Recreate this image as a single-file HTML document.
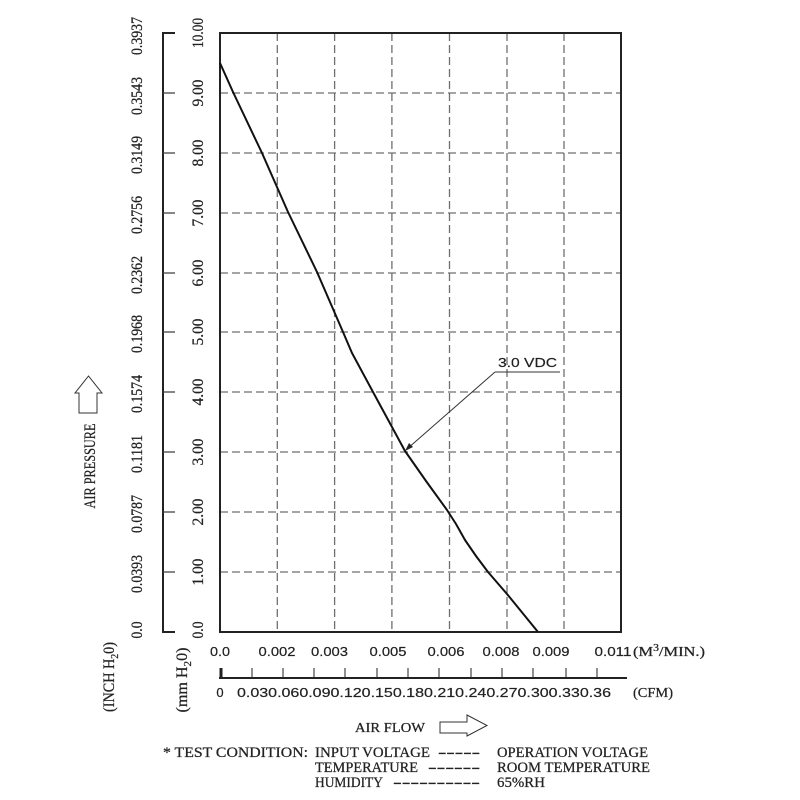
<!DOCTYPE html>
<html>
<head>
<meta charset="utf-8">
<style>
html,body{margin:0;padding:0;background:#fff;}
svg{display:block;}
.s{font-family:"Liberation Serif",serif;fill:#222;stroke:#222;stroke-width:0.25;}
.a{font-family:"Liberation Sans",sans-serif;fill:#222;stroke:#222;stroke-width:0.2;}
</style>
</head>
<body>
<svg width="800" height="800" viewBox="0 0 800 800" xmlns="http://www.w3.org/2000/svg">
<rect width="800" height="800" fill="#fff"/>

<!-- grid -->
<g stroke="#6f6f6f" stroke-width="1.3" stroke-dasharray="8,4" fill="none">
  <line x1="220" y1="93" x2="621" y2="93"/>
  <line x1="220" y1="153" x2="621" y2="153"/>
  <line x1="220" y1="213" x2="621" y2="213"/>
  <line x1="220" y1="273" x2="621" y2="273"/>
  <line x1="220" y1="332" x2="621" y2="332"/>
  <line x1="220" y1="392" x2="621" y2="392"/>
  <line x1="220" y1="452" x2="621" y2="452"/>
  <line x1="220" y1="512" x2="621" y2="512"/>
  <line x1="220" y1="572" x2="621" y2="572"/>
  <line x1="277.3" y1="33" x2="277.3" y2="632"/>
  <line x1="334.6" y1="33" x2="334.6" y2="632"/>
  <line x1="391.9" y1="33" x2="391.9" y2="632"/>
  <line x1="449.5" y1="33" x2="449.5" y2="632"/>
  <line x1="507" y1="33" x2="507" y2="632"/>
  <line x1="564" y1="33" x2="564" y2="632"/>
</g>

<!-- plot box -->
<rect x="220" y="33" width="401" height="599" fill="none" stroke="#222" stroke-width="2"/>

<!-- left mm axis -->
<g stroke="#222" stroke-width="2">
  <line x1="163" y1="32" x2="163" y2="633"/>
  <line x1="163" y1="33" x2="175" y2="33"/>
  <line x1="163" y1="632" x2="175" y2="632"/>
</g>
<g stroke="#444" stroke-width="1.3">
  <line x1="163" y1="93" x2="175" y2="93"/>
  <line x1="163" y1="153" x2="175" y2="153"/>
  <line x1="163" y1="213" x2="175" y2="213"/>
  <line x1="163" y1="273" x2="175" y2="273"/>
  <line x1="163" y1="332" x2="175" y2="332"/>
  <line x1="163" y1="392" x2="175" y2="392"/>
  <line x1="163" y1="452" x2="175" y2="452"/>
  <line x1="163" y1="512" x2="175" y2="512"/>
  <line x1="163" y1="572" x2="175" y2="572"/>
</g>

<!-- mm labels -->
<g class="s" font-size="16" text-anchor="middle">
  <text transform="translate(203,33) rotate(-90)" textLength="30" lengthAdjust="spacingAndGlyphs">10.00</text>
  <text transform="translate(203,93) rotate(-90)" textLength="27" lengthAdjust="spacingAndGlyphs">9.00</text>
  <text transform="translate(203,153) rotate(-90)" textLength="27" lengthAdjust="spacingAndGlyphs">8.00</text>
  <text transform="translate(203,213) rotate(-90)" textLength="27" lengthAdjust="spacingAndGlyphs">7.00</text>
  <text transform="translate(203,273) rotate(-90)" textLength="27" lengthAdjust="spacingAndGlyphs">6.00</text>
  <text transform="translate(203,332) rotate(-90)" textLength="27" lengthAdjust="spacingAndGlyphs">5.00</text>
  <text transform="translate(203,392) rotate(-90)" textLength="27" lengthAdjust="spacingAndGlyphs">4.00</text>
  <text transform="translate(203,452) rotate(-90)" textLength="27" lengthAdjust="spacingAndGlyphs">3.00</text>
  <text transform="translate(203,512) rotate(-90)" textLength="27" lengthAdjust="spacingAndGlyphs">2.00</text>
  <text transform="translate(203,572) rotate(-90)" textLength="27" lengthAdjust="spacingAndGlyphs">1.00</text>
  <text transform="translate(203,630) rotate(-90)" textLength="17" lengthAdjust="spacingAndGlyphs">0.0</text>
</g>

<!-- inch labels -->
<g class="s" font-size="16" text-anchor="middle">
  <text transform="translate(142,36) rotate(-90)" textLength="38" lengthAdjust="spacingAndGlyphs">0.3937</text>
  <text transform="translate(142,96) rotate(-90)" textLength="38" lengthAdjust="spacingAndGlyphs">0.3543</text>
  <text transform="translate(142,155) rotate(-90)" textLength="38" lengthAdjust="spacingAndGlyphs">0.3149</text>
  <text transform="translate(142,215) rotate(-90)" textLength="38" lengthAdjust="spacingAndGlyphs">0.2756</text>
  <text transform="translate(142,275) rotate(-90)" textLength="38" lengthAdjust="spacingAndGlyphs">0.2362</text>
  <text transform="translate(142,334) rotate(-90)" textLength="38" lengthAdjust="spacingAndGlyphs">0.1968</text>
  <text transform="translate(142,394) rotate(-90)" textLength="38" lengthAdjust="spacingAndGlyphs">0.1574</text>
  <text transform="translate(142,454) rotate(-90)" textLength="38" lengthAdjust="spacingAndGlyphs">0.1181</text>
  <text transform="translate(142,514) rotate(-90)" textLength="38" lengthAdjust="spacingAndGlyphs">0.0787</text>
  <text transform="translate(142,574) rotate(-90)" textLength="38" lengthAdjust="spacingAndGlyphs">0.0393</text>
  <text transform="translate(142,630) rotate(-90)" textLength="17" lengthAdjust="spacingAndGlyphs">0.0</text>
</g>

<!-- unit labels rotated -->
<g class="s" font-size="16" text-anchor="middle">
  <text transform="translate(114,677) rotate(-90)" textLength="70" lengthAdjust="spacingAndGlyphs">(INCH H<tspan font-size="11" dy="4">2</tspan><tspan dy="-4">0)</tspan></text>
  <text transform="translate(187,680) rotate(-90)" textLength="65" lengthAdjust="spacingAndGlyphs">(mm H<tspan font-size="11" dy="4">2</tspan><tspan dy="-4">0)</tspan></text>
  <text transform="translate(95,466) rotate(-90)" textLength="85" lengthAdjust="spacingAndGlyphs">AIR PRESSURE</text>
</g>

<!-- up arrow -->
<polygon points="88.5,376 102,393 97,393 97,413 79,413 79,393 75,393" fill="#fff" stroke="#333" stroke-width="1"/>

<!-- x labels (M3/MIN) -->
<g class="a" font-size="13" text-anchor="middle">
  <text x="220" y="656" textLength="20" lengthAdjust="spacingAndGlyphs">0.0</text>
  <text x="277" y="656" textLength="37" lengthAdjust="spacingAndGlyphs">0.002</text>
  <text x="329.5" y="656" textLength="37" lengthAdjust="spacingAndGlyphs">0.003</text>
  <text x="388" y="656" textLength="37" lengthAdjust="spacingAndGlyphs">0.005</text>
  <text x="446" y="656" textLength="37" lengthAdjust="spacingAndGlyphs">0.006</text>
  <text x="501" y="656" textLength="37" lengthAdjust="spacingAndGlyphs">0.008</text>
  <text x="551" y="656" textLength="37" lengthAdjust="spacingAndGlyphs">0.009</text>
  <text x="613" y="656" textLength="37" lengthAdjust="spacingAndGlyphs">0.011</text>
</g>
<text class="s" x="633" y="656" font-size="14" textLength="72" lengthAdjust="spacingAndGlyphs">(M<tspan font-size="10" dy="-5">3</tspan><tspan dy="5">/MIN.)</tspan></text>

<!-- CFM axis -->
<g stroke="#222">
  <line x1="219" y1="678" x2="627" y2="678" stroke-width="2"/>
  <line x1="221" y1="668" x2="221" y2="679" stroke-width="3"/>
  <g stroke-width="1">
    <line x1="252" y1="668" x2="252" y2="678"/>
    <line x1="283" y1="668" x2="283" y2="678"/>
    <line x1="314" y1="668" x2="314" y2="678"/>
    <line x1="345" y1="668" x2="345" y2="678"/>
    <line x1="377" y1="668" x2="377" y2="678"/>
    <line x1="408" y1="668" x2="408" y2="678"/>
    <line x1="439" y1="668" x2="439" y2="678"/>
    <line x1="471" y1="668" x2="471" y2="678"/>
    <line x1="502" y1="668" x2="502" y2="678"/>
    <line x1="533" y1="668" x2="533" y2="678"/>
    <line x1="566" y1="668" x2="566" y2="678"/>
    <line x1="597" y1="668" x2="597" y2="678"/>
  </g>
</g>
<text class="a" x="220" y="697" font-size="13" text-anchor="middle">0</text>
<text class="a" x="237" y="697" font-size="13" textLength="374" lengthAdjust="spacingAndGlyphs">0.030.060.090.120.150.180.210.240.270.300.330.36</text>
<text class="s" x="633" y="697" font-size="14" textLength="40" lengthAdjust="spacingAndGlyphs">(CFM)</text>

<!-- curve -->
<polyline points="220,63 233,92 262,153 288,212 317,272 343,332 352,353 373,392 405,451 426,481 447,510 456,524 465,540 476,556 488,572 507,594 538,632" fill="none" stroke="#111" stroke-width="2" stroke-linejoin="round"/>

<!-- annotation -->
<g stroke="#333" stroke-width="1" fill="none">
  <line x1="495" y1="372" x2="560" y2="372"/>
  <line x1="495" y1="372" x2="407" y2="449"/>
</g>
<polygon points="405,451 409,443 413,447" fill="#222"/>
<text class="a" x="498" y="367" font-size="13" textLength="59" lengthAdjust="spacingAndGlyphs">3.0  VDC</text>

<!-- AIR FLOW -->
<text class="s" x="355" y="732" font-size="14" textLength="70" lengthAdjust="spacingAndGlyphs">AIR  FLOW</text>
<polygon points="440,722 467,722 467,715 487,725.5 467,736 467,733 440,733" fill="#fff" stroke="#333" stroke-width="1"/>

<!-- test condition -->
<g class="s" font-size="15">
  <text x="163" y="757" textLength="145" lengthAdjust="spacingAndGlyphs">*  TEST  CONDITION:</text>
  <text x="315" y="757" textLength="115" lengthAdjust="spacingAndGlyphs">INPUT  VOLTAGE</text>
  <text x="438" y="757" textLength="42" lengthAdjust="spacingAndGlyphs">-----</text>
  <text x="497" y="757" textLength="151" lengthAdjust="spacingAndGlyphs">OPERATION  VOLTAGE</text>

  <text x="315" y="772" textLength="103" lengthAdjust="spacingAndGlyphs">TEMPERATURE</text>
  <text x="428" y="772" textLength="52" lengthAdjust="spacingAndGlyphs">------</text>
  <text x="497" y="772" textLength="153" lengthAdjust="spacingAndGlyphs">ROOM  TEMPERATURE</text>

  <text x="315" y="787" textLength="68" lengthAdjust="spacingAndGlyphs">HUMIDITY</text>
  <text x="393" y="787" textLength="87" lengthAdjust="spacingAndGlyphs">----------</text>
  <text x="497" y="787" textLength="48" lengthAdjust="spacingAndGlyphs">65%RH</text>
</g>
</svg>
</body>
</html>
